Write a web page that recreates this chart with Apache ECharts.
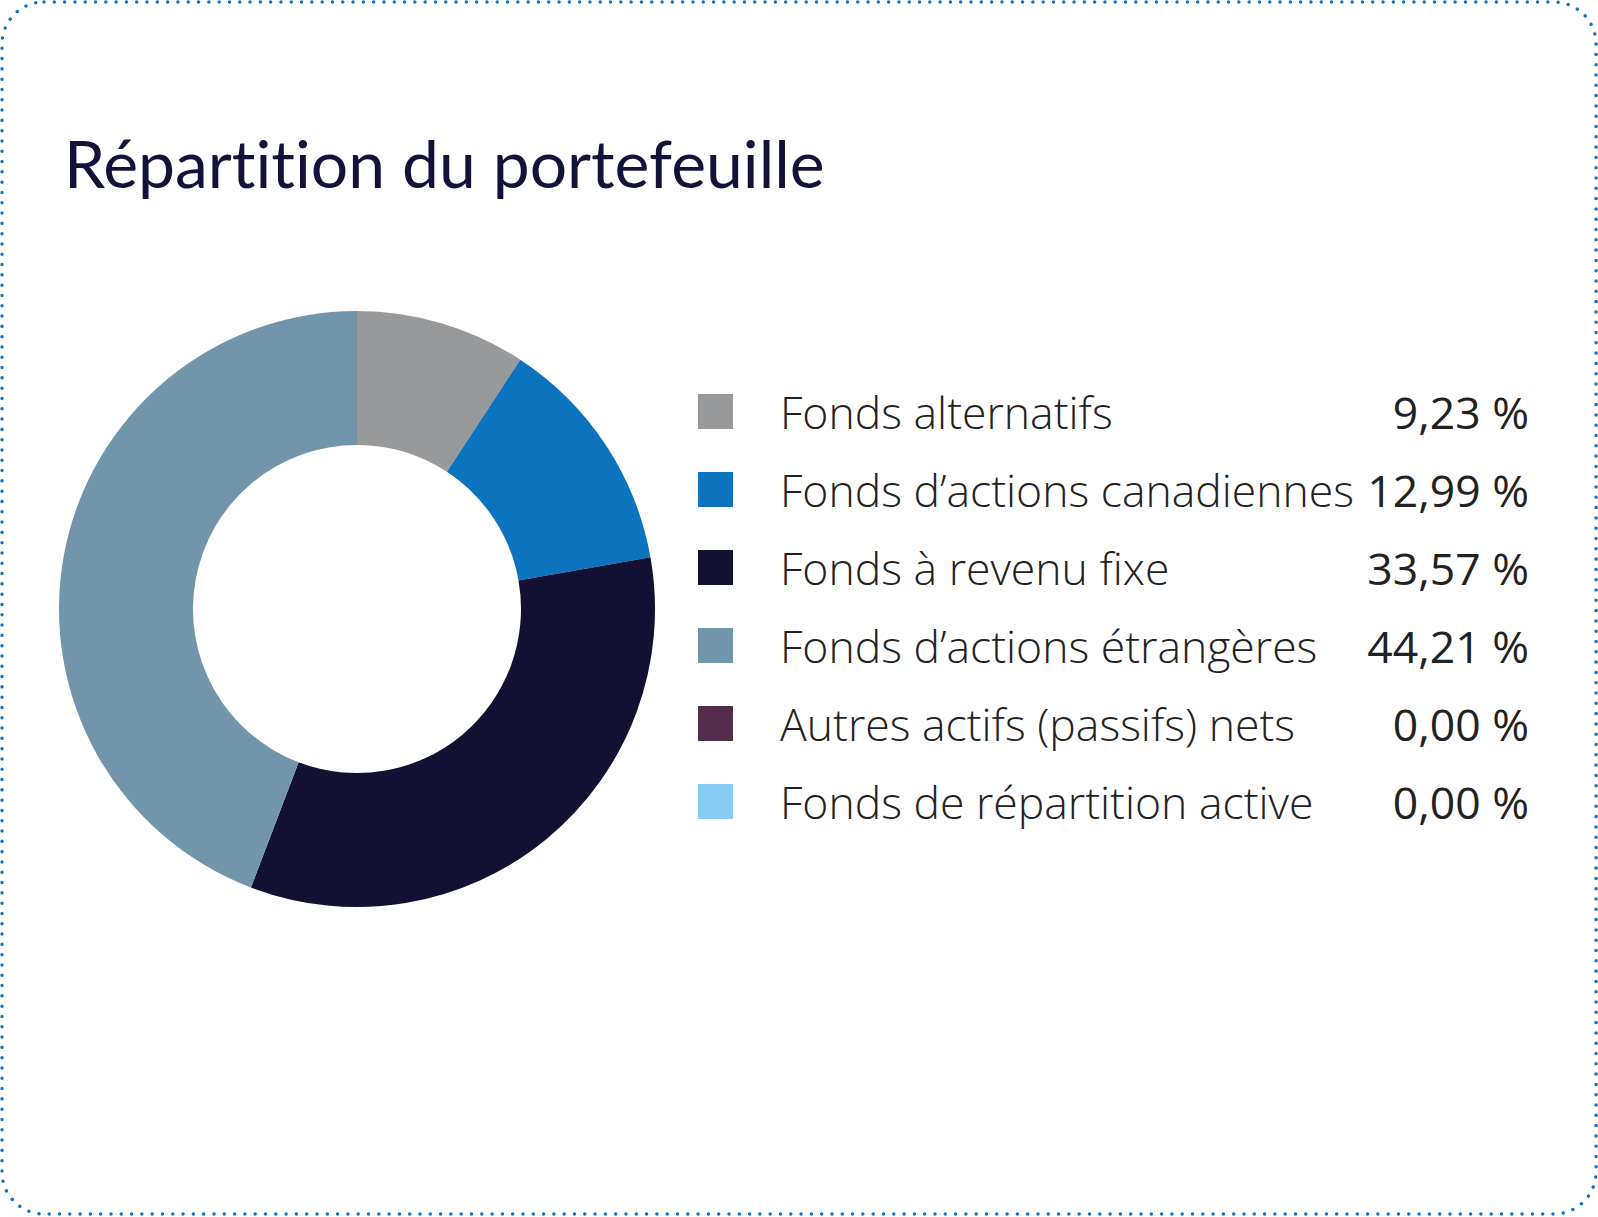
<!DOCTYPE html>
<html>
<head>
<meta charset="utf-8">
<style>
html,body{margin:0;padding:0;background:#fff;}
#chart{width:1598px;height:1217px;}
#chart text{font-variant-ligatures:none;font-feature-settings:"liga" 0;}
</style>
<script src="https://cdn.jsdelivr.net/npm/echarts@6/dist/echarts.min.js"></script>
</head>
<body>
<div id="chart"></div>
<script>
const title = 'Répartition du portefeuille';
const categories = [
  'Fonds alternatifs',
  'Fonds d\u2019actions canadiennes',
  'Fonds à revenu fixe',
  'Fonds d\u2019actions étrangères',
  'Autres actifs (passifs) nets',
  'Fonds de répartition active'
];
const values = [9.23, 12.99, 33.57, 44.21, 0.00, 0.00];
const colors = ['#98999b', '#0c74bf', '#121133', '#7195ab', '#532c49', '#86ccf3'];

const fmt = v => v.toFixed(2).replace('.', ',') + '\u00a0%';
const valueByName = {};
categories.forEach((c, i) => { valueByName[c] = values[i]; });

const chart = echarts.init(document.getElementById('chart'), null, {renderer: 'svg'});
chart.setOption({
  animation: false,
  color: colors,
  title: {
    text: title,
    left: 59,
    top: 124,
    textStyle: {
      fontFamily: 'Lato',
      fontWeight: 400,
      fontSize: 66,
      color: '#13123a'
    }
  },
  graphic: [{
    type: 'rect',
    shape: {x: 2, y: 2, width: 1594, height: 1212, r: 42},
    style: {
      fill: 'none',
      stroke: '#0e75c2',
      lineWidth: 3.4,
      lineDash: [0.1, 10.2],
      lineCap: 'round'
    },
    silent: true
  }],
  legend: {
    orient: 'vertical',
    left: 693,
    top: 384,
    itemWidth: 35,
    itemHeight: 35,
    itemGap: 33,
    icon: 'rect',
    selectedMode: false,
    data: categories,
    formatter: name => '{n|' + name + '}{v|' + fmt(valueByName[name]) + '}',
    textStyle: {
      padding: [0, 0, 0, 42],
      rich: {
        n: {
          width: 582,
          fontFamily: 'Open Sans',
          fontWeight: 300,
          fontSize: 44.5,
          color: '#222222'
        },
        v: {
          width: 167,
          align: 'right',
          fontFamily: 'Open Sans',
          fontWeight: 400,
          fontSize: 44.5,
          color: '#222222'
        }
      }
    }
  },
  series: [{
    type: 'pie',
    center: [357, 609],
    radius: [164, 298],
    startAngle: 90,
    clockwise: true,
    label: {show: false},
    labelLine: {show: false},
    emphasis: {disabled: true},
    itemStyle: {borderWidth: 0},
    data: categories.map((c, i) => ({name: c, value: values[i]}))
  }]
});
</script>
</body>
</html>
